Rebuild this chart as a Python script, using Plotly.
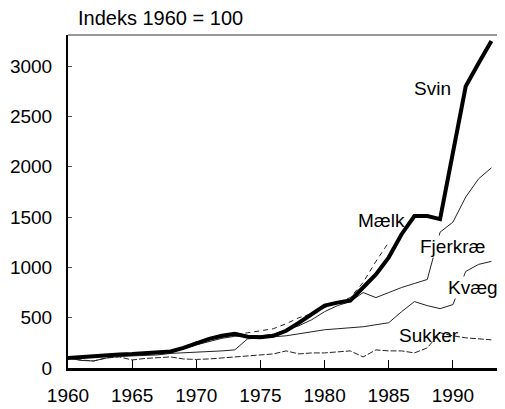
import plotly.graph_objects as go

years = list(range(1960, 1994))

svin = [100, 110, 115, 125, 135, 140, 145, 150, 165, 200, 250, 290, 320, 340, 310, 305, 320, 370, 450, 540,
        620, 650, 670, 800, 930, 1100, 1330, 1510, 1510, 1480, 2150, 2800, 3030, 3250]
maelk = [100, 105, 110, 120, 135, 140, 145, 150, 170, 210, 260, 285, 310, 330, 350, 370, 390, 440, 500, 540,
         600, 650, 700, 850, 1060, 1250]
fjerkrae = [100, 105, 112, 120, 128, 133, 138, 145, 160, 190, 230, 265, 295, 315, 320, 320, 335, 380, 420, 480,
            560, 620, 660, 750, 700, 750, 800, 840, 880, 1350, 1450, 1700, 1880, 1990]
kvaeg = [100, 75, 70, 100, 115, 120, 125, 130, 145, 150, 155, 160, 170, 180, 290, 300, 310, 320, 340, 360,
         380, 390, 400, 410, 430, 450, 560, 660, 620, 590, 630, 960, 1030, 1060]
sukker = [100, 80, 70, 100, 110, 80, 95, 105, 110, 90, 85, 90, 100, 110, 120, 130, 140, 170, 140, 150,
          150, 160, 170, 110, 180, 170, 170, 150, 200, 350, 320, 300, 290, 280]

label_names = ["Svin", "Mælk", "Fjerkræ", "Kvæg", "Sukker"]
label_x = [1988.4, 1984.4, 1990.0, 1991.6, 1988.1]
label_y = [2780, 1470, 1210, 805, 328]
label_bg = [None, None, "white", "white", None]

font = "Liberation Sans, Arial, sans-serif"

fig = go.Figure()
fig.add_trace(go.Scatter(x=years, y=sukker, mode="lines", line=dict(color="#222", width=1, dash="6px,2px")))
fig.add_trace(go.Scatter(x=years, y=kvaeg, mode="lines", line=dict(color="#222", width=1)))
fig.add_trace(go.Scatter(x=years, y=fjerkrae, mode="lines", line=dict(color="#222", width=1)))
fig.add_trace(go.Scatter(x=years[:len(maelk)], y=maelk, mode="lines",
                         line=dict(color="#222", width=1, dash="5px,4px")))
fig.add_trace(go.Scatter(x=years, y=svin, mode="lines", line=dict(color="black", width=4)))

annotations = [
    dict(x=x, y=y, text=t, xref="x", yref="y", showarrow=False, bgcolor=bg, borderpad=0,
         font=dict(family=font, size=19, color="black"))
    for t, x, y, bg in zip(label_names, label_x, label_y, label_bg)
]
annotations.append(dict(x=0, y=1, xref="paper", yref="paper", xanchor="left", yanchor="middle",
                        xshift=8, yshift=17, text="Indeks 1960 = 100", showarrow=False,
                        font=dict(family=font, size=20, color="black")))

# the page body keeps its 8px margin, so the figure is 8px smaller
fig.update_layout(
    width=497,
    height=401,
    margin=dict(l=60, r=0, t=27, b=41),
    paper_bgcolor="white",
    plot_bgcolor="white",
    showlegend=False,
    font=dict(family=font, size=19, color="black"),
    annotations=annotations,
    shapes=[dict(type="line", xref="paper", yref="paper", x0=0, x1=1, y0=1, y1=1,
                 line=dict(color="#333", width=1))],
    xaxis=dict(
        range=[1960, 1994.06],
        tickvals=[1960, 1965, 1970, 1975, 1980, 1985, 1990],
        ticks="inside",
        ticklen=8,
        tickcolor="black",
        showgrid=False,
        zeroline=False,
        showline=True,
        linecolor="black",
        linewidth=3,
        ticklabelstandoff=8,
    ),
    yaxis=dict(
        range=[0, 3310],
        tickvals=[0, 500, 1000, 1500, 2000, 2500, 3000],
        ticks="inside",
        ticklen=4,
        tickcolor="#555",
        showgrid=False,
        zeroline=False,
        showline=True,
        linecolor="black",
        linewidth=2,
        ticklabelstandoff=10,
    ),
)

fig.write_html("out.html")
